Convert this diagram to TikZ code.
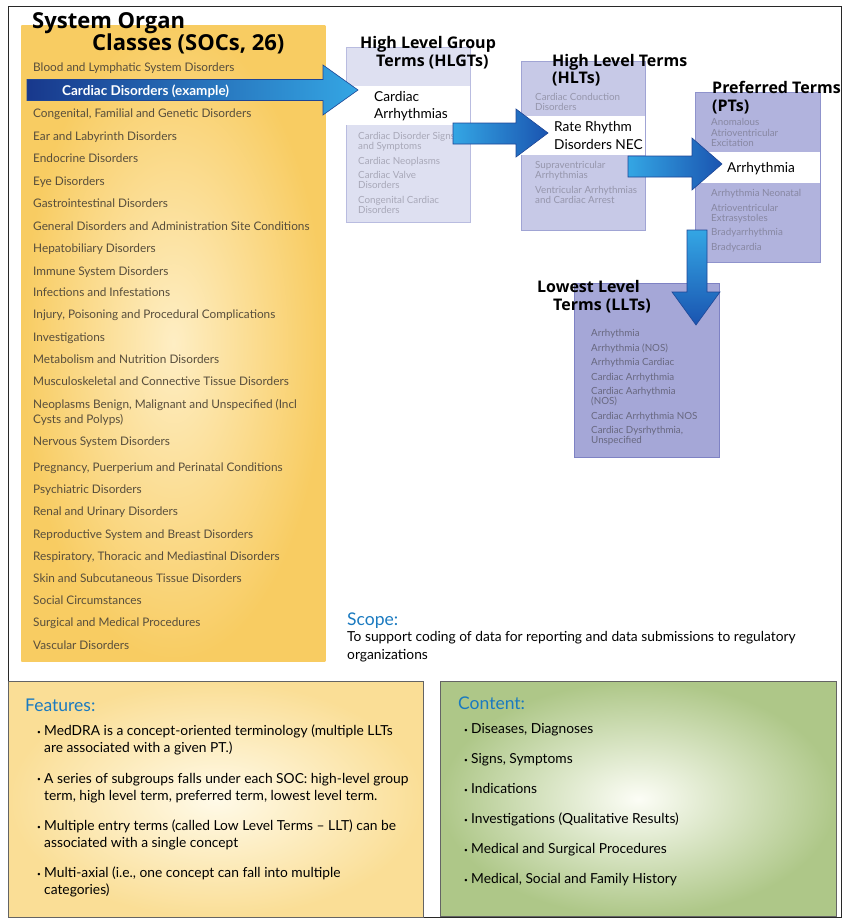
\documentclass[tikz,border=0pt]{standalone}
\usepackage{fontspec}
\setmainfont{Lato}
\newfontfamily\titlefont{Open Sans}
\usetikzlibrary{calc}
\definecolor{framegray}{RGB}{40,40,40}
\definecolor{socedge}{RGB}{248,204,98}
\definecolor{soccentre}{RGB}{254,238,196}
\definecolor{soctext}{RGB}{88,78,60}
\definecolor{hlgtfill}{RGB}{222,224,241}
\definecolor{hlgtedge}{RGB}{185,188,224}
\definecolor{hltfill}{RGB}{199,201,231}
\definecolor{hltedge}{RGB}{160,164,212}
\definecolor{ptfill}{RGB}{177,179,221}
\definecolor{ptedge}{RGB}{143,147,204}
\definecolor{lltfill}{RGB}{165,167,215}
\definecolor{lltedge}{RGB}{126,130,196}
\definecolor{hlgtgray}{RGB}{168,168,184}
\definecolor{hltgray}{RGB}{150,150,172}
\definecolor{ptgray}{RGB}{135,135,162}
\definecolor{lltgray}{RGB}{104,104,128}
\definecolor{navy}{RGB}{24,56,140}
\definecolor{cyanblue}{RGB}{52,166,228}
\definecolor{deepblue}{RGB}{26,84,176}
\definecolor{arrowedge}{RGB}{30,70,150}
\definecolor{headblue}{RGB}{26,122,192}
\definecolor{featedge}{RGB}{250,222,150}
\definecolor{featcentre}{RGB}{255,250,232}
\definecolor{contedge}{RGB}{174,199,136}
\definecolor{contcentre}{RGB}{252,253,246}
\definecolor{boxline}{RGB}{100,100,100}
\newcommand{\dotitem}{\makebox[7pt][l]{\raisebox{1.5pt}{\fontsize{6.5}{6.5}\selectfont\textbullet}}}

\begin{document}
\begin{tikzpicture}[x=1pt, y=-1pt,
    socitem/.style={anchor=base west, inner sep=0pt, text=soctext, font=\fontsize{11.8}{15}\selectfont},
    title/.style={anchor=base west, inner sep=0pt, font=\titlefont\bfseries\fontsize{16}{18}\selectfont},
    bigtitle/.style={title, font=\titlefont\bfseries\fontsize{22}{22}\selectfont},
    termbox/.style={anchor=north west, inner sep=0pt, line width=0.8pt},
    terms/.style={anchor=north west, inner sep=0pt, align=left, font=\fontsize{9.8}{10}\selectfont},
    bandtext/.style={anchor=north west, inner sep=0pt, align=left, font=\fontsize{13.7}{17}\selectfont},
    bluehead/.style={anchor=base west, inner sep=0pt, text=headblue, font=\fontsize{17.5}{17.5}\selectfont},
    bodytext/.style={anchor=north west, inner sep=0pt, align=left, font=\fontsize{13.8}{17}\selectfont},
    blockarrow/.style={draw=arrowedge, line width=0.6pt, line join=miter}]
    \useasboundingbox (0,0) rectangle (849,918);

    % Outer frame
    \draw[framegray, line width=1pt] (8,6) rectangle (841,917);

    % SOC panel
    \node[termbox, minimum width=304, minimum height=636,
          inner color=soccentre, outer color=socedge] (soc) at (21,25) {};
    \node[bigtitle] (soctitle1) at (32,28) {System Organ};
    \node[bigtitle] (soctitle2) at (92,50) {Classes (SOCs, 26)};
    \foreach \y/\t [count=\i] in {
        71/Blood and Lymphatic System Disorders,
        117/{Congenital, Familial and Genetic Disorders},
        140/Ear and Labyrinth Disorders,
        162/Endocrine Disorders,
        185/Eye Disorders,
        207/Gastrointestinal Disorders,
        230/General Disorders and Administration Site Conditions,
        252/Hepatobiliary Disorders,
        275/Immune System Disorders,
        296/Infections and Infestations,
        318/{Injury, Poisoning and Procedural Complications},
        341/Investigations,
        363/Metabolism and Nutrition Disorders,
        385/Musculoskeletal and Connective Tissue Disorders,
        445/Nervous System Disorders,
        471/{Pregnancy, Puerperium and Perinatal Conditions},
        493/Psychiatric Disorders,
        515/Renal and Urinary Disorders,
        538/Reproductive System and Breast Disorders,
        560/{Respiratory, Thoracic and Mediastinal Disorders},
        582/Skin and Subcutaneous Tissue Disorders,
        604/Social Circumstances,
        626/Surgical and Medical Procedures,
        649/Vascular Disorders}
        \node[socitem] (soc\i) at (33,\y) {\t};
    \node[socitem, anchor=north west, align=left] (neoplasms) at (33,399.5)
        {Neoplasms Benign, Malignant and Unspecified (Incl\\Cysts and Polyps)};

    % Hierarchy boxes
    \node[termbox, fill=hlgtfill, draw=hlgtedge, minimum width=124, minimum height=175] (hlgt) at (346,47) {};
    \node[termbox, fill=hltfill, draw=hltedge, minimum width=124, minimum height=169] (hlt) at (521,61) {};
    \node[termbox, fill=ptfill, draw=ptedge, minimum width=125, minimum height=170] (pt) at (695,92) {};
    \node[termbox, fill=lltfill, draw=lltedge, minimum width=145, minimum height=174] (llt) at (574,283) {};
    \fill[white] (346,86) rectangle (470,125);
    \fill[white] (521,116) rectangle (645,155);
    \fill[white] (695,152) rectangle (820,183);

    % HLGT texts
    \node[bandtext] (hlgtsel) at (374,91.5) {Cardiac\\Arrhythmias};
    \node[terms, text=hlgtgray] (hlgtlist) at (358,132.5)
        {Cardiac Disorder Signs\\and Symptoms\\[4.5pt]Cardiac Neoplasms\\[4.5pt]Cardiac Valve\\Disorders\\[4.5pt]Congenital Cardiac\\Disorders};

    % HLT texts
    \node[terms, text=hltgray] (hltlist1) at (535,93.5) {Cardiac Conduction\\Disorders};
    \node[bandtext, font=\fontsize{13.7}{18}\selectfont] (hltsel) at (554,121.5) {Rate Rhythm\\Disorders NEC};
    \node[terms, text=hltgray] (hltlist2) at (535,161.5)
        {Supraventricular\\Arrhythmias\\[4.5pt]Ventricular Arrhythmias\\and Cardiac Arrest};

    % PT texts
    \node[terms, text=ptgray, font=\fontsize{9.8}{10.5}\selectfont] (ptlist1) at (711,118.5)
        {Anomalous\\Atrioventricular\\Excitation};
    \node[bandtext, anchor=base west] (ptsel) at (727,172.5) {Arrhythmia};
    \node[terms, text=ptgray] (ptlist2) at (711,189.5)
        {Arrhythmia Neonatal\\[4.5pt]Atrioventricular\\Extrasystoles\\[4.5pt]Bradyarrhythmia\\[4.5pt]Bradycardia};

    % LLT texts
    \node[terms, text=lltgray] (lltlist) at (591,329.5)
        {Arrhythmia\\[4.5pt]Arrhythmia (NOS)\\[4.5pt]Arrhythmia Cardiac\\[4.5pt]Cardiac Arrhythmia\\[4.5pt]Cardiac Aarhythmia\\(NOS)\\[4.5pt]Cardiac Arrhythmia NOS\\[4.5pt]Cardiac Dysrhythmia,\\Unspecified};

    % Block arrows
    \coordinate (tip1) at (358,90);
    \coordinate (tip2) at (548,133);
    \coordinate (tip3) at (722,164);
    \coordinate (tip4) at (696,325);
    \shadedraw[blockarrow, left color=navy, right color=cyanblue]
        (27,79.5) -- (323,79.5) -- (323,65) -- (tip1) -- (323,115) -- (323,100.5) -- (27,100.5) -- cycle;
    \shadedraw[blockarrow, left color=cyanblue, right color=deepblue]
        (453,123) -- (516,123) -- (516,109) -- (tip2) -- (516,157) -- (516,144) -- (453,144) -- cycle;
    \shadedraw[blockarrow, left color=cyanblue, right color=deepblue]
        (628,156) -- (692,156) -- (692,138) -- (tip3) -- (692,190) -- (692,177) -- (628,177) -- cycle;
    \shadedraw[blockarrow, top color=cyanblue, bottom color=deepblue]
        (687,230) -- (707,230) -- (707,292) -- (720,292) -- (tip4) -- (672,292) -- (687,292) -- cycle;
    \node[anchor=base west, inner sep=0pt, text=white, font=\bfseries\fontsize{13.5}{15}\selectfont]
        (cardiac) at (62,95) {Cardiac Disorders (example)};

    % Level titles
    \node[title] (hlgttitle1) at (360,48) {High Level Group};
    \node[title] (hlgttitle2) at (376,66) {Terms (HLGTs)};
    \node[title] (hlttitle1) at (552,66) {High Level Terms};
    \node[title] (hlttitle2) at (552,83) {(HLTs)};
    \node[title] (pttitle1) at (712,93) {Preferred Terms};
    \node[title] (pttitle2) at (712,111) {(PTs)};
    \node[title] (llttitle1) at (537,292) {Lowest Level};
    \node[title] (llttitle2) at (553,310) {Terms (LLTs)};

    % Scope
    \node[bluehead] (scopehead) at (347,625) {Scope:};
    \node[bodytext, font=\fontsize{13.8}{18}\selectfont] (scopetext) at (347,631)
        {To support coding of data for reporting and data submissions to regulatory\\organizations};

    % Features panel
    \node[termbox, draw=boxline, minimum width=415, minimum height=236,
          inner color=featcentre, outer color=featedge] (features) at (8,681) {};
    \node[bluehead] (feathead) at (25,711) {Features:};
    \node[bodytext] (feat1) at (37,725)
        {\dotitem MedDRA is a concept-oriented terminology (multiple LLTs\\\hspace*{7pt}are associated with a given PT.)};
    \node[bodytext] (feat2) at (37,773)
        {\dotitem A series of subgroups falls under each SOC: high-level group\\\hspace*{7pt}term, high level term, preferred term, lowest level term.};
    \node[bodytext] (feat3) at (37,820)
        {\dotitem Multiple entry terms (called Low Level Terms -- LLT) can be\\\hspace*{7pt}associated with a single concept};
    \node[bodytext] (feat4) at (37,867)
        {\dotitem Multi-axial (i.e., one concept can fall into multiple\\\hspace*{7pt}categories)};

    % Content panel
    \node[termbox, draw=boxline, minimum width=396, minimum height=235,
          inner color=contcentre, outer color=contedge] (content) at (440,681) {};
    \node[bluehead] (conthead) at (458,709) {Content:};
    \foreach \y/\t [count=\i] in {
        729/{Diseases, Diagnoses},
        759/{Signs, Symptoms},
        789/Indications,
        819/Investigations (Qualitative Results),
        849/Medical and Surgical Procedures,
        879/{Medical, Social and Family History}}
        \node[anchor=base west, inner sep=0pt, font=\fontsize{13.8}{15}\selectfont] (cont\i) at (464,\y+4.8) {\dotitem\t};
\end{tikzpicture}
\end{document}
